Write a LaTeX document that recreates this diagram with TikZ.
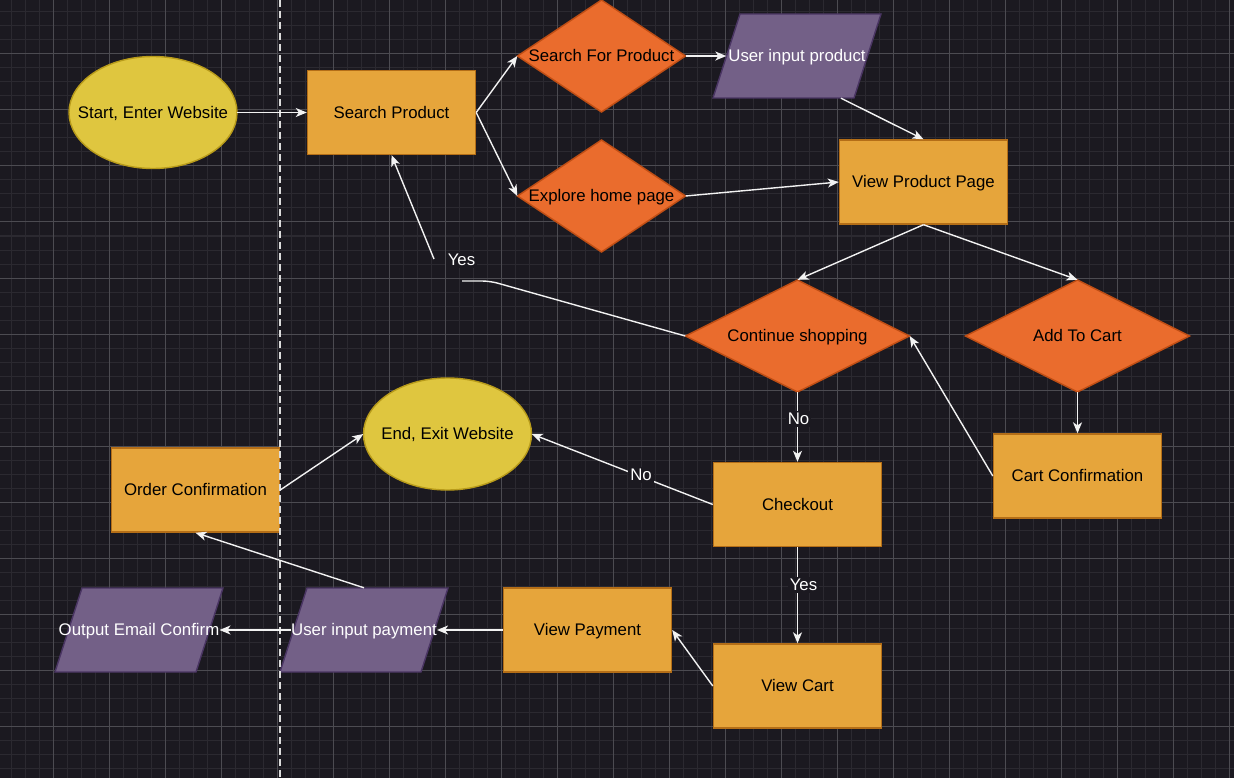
\documentclass[tikz,border=0pt]{standalone}
\usepackage{fontspec}
\setmainfont{Liberation Sans}
\usetikzlibrary{arrows.meta,calc}
\definecolor{bgc}{HTML}{1B1920}
\definecolor{minorc}{HTML}{2B2930}
\definecolor{majorc}{HTML}{4C4B51}
\definecolor{rectfill}{HTML}{E6A53B}
\definecolor{rectline}{HTML}{B46E17}
\definecolor{diafill}{HTML}{EA6C2D}
\definecolor{dialine}{HTML}{C04E14}
\definecolor{parafill}{HTML}{736087}
\definecolor{paraline}{HTML}{4A3563}
\definecolor{ovfill}{HTML}{DFC63F}
\definecolor{ovline}{HTML}{B89B1A}
\definecolor{edgec}{HTML}{F2F2F2}
\definecolor{dashc}{HTML}{DCDCDC}

\newcommand\ovalshape[4]{%
  \draw[ovalsty] (#2,#3) ellipse [x radius=84pt, y radius=56pt];
  \node[txt, minimum width=168pt, minimum height=112pt] (#1) at (#2,#3) {#4};}
\newcommand\diashape[5]{%
  \draw[diasty, shift={(#2,#3)}] ({-#4/2},0) -- (0,-56) -- ({#4/2},0) -- (0,56) -- cycle;
  \node[txt, minimum width=#4pt, minimum height=112pt] (#1) at (#2,#3) {#5};}
\newcommand\parashape[4]{%
  \draw[parasty, shift={(#2,#3)}] (-57,-42) -- (84,-42) -- (57,42) -- (-84,42) -- cycle;
  \node[txt, text=white, minimum width=141pt, minimum height=84pt] (#1) at (#2,#3) {#4};}

\begin{document}
\begin{tikzpicture}[x=1pt, y=-1pt,
  txt/.style={inner sep=0pt, font=\fontsize{16.8}{20}\selectfont, text=black, align=center, text height=12pt, text depth=0.4pt},
  rectsty/.style={txt, draw=rectline, fill=rectfill, line width=1.4pt, minimum width=168pt, minimum height=84pt},
  ovalsty/.style={draw=ovline, fill=ovfill, line width=1.4pt},
  diasty/.style={draw=dialine, fill=diafill, line width=1.4pt, line join=miter},
  parasty/.style={draw=paraline, fill=parafill, line width=1.4pt},
  edge/.style={draw=edgec, line width=1.4pt, -{Stealth[length=11pt, width=9pt, inset=3pt]}},
  plain/.style={draw=edgec, line width=1.4pt},
  elabel/.style={fill=bgc, text=white, inner sep=2pt, font=\fontsize{16.8}{20}\selectfont, text height=12pt, text depth=0.4pt},
  dashline/.style={draw=dashc, line width=2pt, dash pattern=on 7pt off 4pt}]

\useasboundingbox (0,0) rectangle (1234,778);
\fill[bgc] (0,0) rectangle (1234,778);
\foreach \i in {0,...,87} \draw[minorc, line width=1pt] ({11.5+14*\i},0) -- ({11.5+14*\i},778);
\foreach \j in {0,...,54} \draw[minorc, line width=1pt] (0,{12+14*\j}) -- (1234,{12+14*\j});
\foreach \i in {0,...,21} \draw[majorc, line width=1pt] ({53.5+56*\i},0) -- ({53.5+56*\i},778);
\foreach \j in {0,...,12} \draw[majorc, line width=1pt] (0,{54+56*\j}) -- (1234,{54+56*\j});

% nodes
\ovalshape{start}{153}{112.5}{Start, Enter Website}
\node[rectsty] (search) at (391.5,112.5) {Search Product};
\diashape{sfp}{601.5}{56}{168}{Search For Product}
\parashape{uiprod}{797}{56}{User input product}
\diashape{explore}{601.5}{196}{168}{Explore home page}
\node[rectsty] (vpp) at (923.5,182) {View Product Page};
\diashape{cont}{797.5}{336}{224}{Continue shopping}
\diashape{addcart}{1077.5}{336}{224}{Add To Cart}
\node[rectsty] (cartconf) at (1077.5,476) {Cart Confirmation};
\ovalshape{endE}{447.5}{434}{End, Exit Website}
\node[rectsty] (checkout) at (797.5,504.5) {Checkout};
\node[rectsty] (orderconf) at (195.5,490) {Order Confirmation};
\node[rectsty] (viewpay) at (587.5,630) {View Payment};
\node[rectsty] (viewcart) at (797.5,686) {View Cart};
\parashape{uipay}{364}{630}{User input payment}
\parashape{email}{139}{630}{Output Email Confirm}

% separator
\draw[dashline] (279.5,0) -- (279.5,778);

% connectors
\draw[edge] (start.east) -- (search.west);
\draw[edge] (search.east) -- (sfp.west);
\draw[edge] (search.east) -- (explore.west);
\draw[edge] (sfp.east) -- (uiprod.west);
\draw[edge] ($(uiprod.south)+(44,0)$) -- (vpp.north);
\draw[edge] (explore.east) -- (vpp.west);
\draw[edge] (vpp.south) -- (cont.north);
\draw[edge] (vpp.south) -- (addcart.north);
\coordinate (yesA) at (462,281);
\coordinate (yesB) at (434,259);
\draw[plain, rounded corners=8pt] (cont.west) -- (490,281) -- (yesA);
\draw[edge] (yesB) -- (search.south);
\node[elabel] (lyes1) at (461.5,260) {Yes};
\draw[edge] (cont.south) -- (checkout.north);
\node[elabel] (lno1) at (798.5,419) {No};
\draw[edge] (addcart.south) -- (cartconf.north);
\draw[edge] (cartconf.west) -- (cont.east);
\draw[edge] (checkout.west) -- (endE.east);
\node[elabel] (lno2) at (641,475) {No};
\draw[edge] (checkout.south) -- (viewcart.north);
\node[elabel] (lyes2) at (803.5,585) {Yes};
\draw[edge] (viewcart.west) -- (viewpay.east);
\draw[edge] (viewpay.west) -- (uipay.east);
\draw[edge] (uipay.west) -- (email.east);
\draw[edge] (uipay.north) -- (orderconf.south);
\draw[edge] (orderconf.east) -- (endE.west);
\end{tikzpicture}
\end{document}
